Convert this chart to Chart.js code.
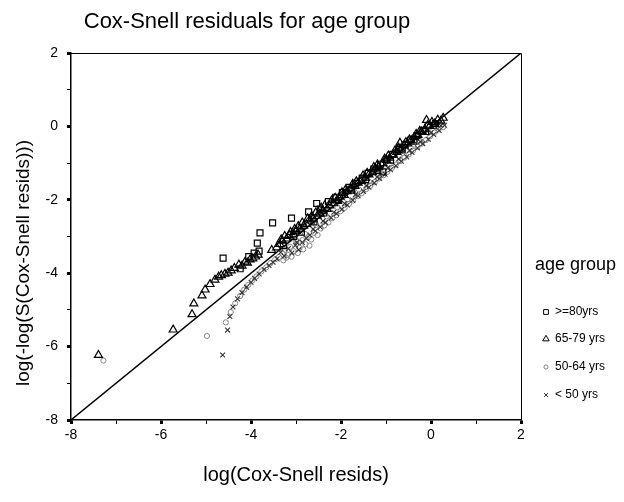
<!DOCTYPE html>
<html>
<head>
<meta charset="utf-8">
<title>Cox-Snell residuals for age group</title>
<script src="https://cdn.jsdelivr.net/npm/chart.js@4/dist/chart.umd.min.js"></script>
<style>
  html, body { margin: 0; padding: 0; background: #ffffff; }
  canvas { display: block; }
</style>
</head>
<body>
<canvas id="chart" width="624" height="502"></canvas>
<script>
// ---- text ----
const chartTitle = 'Cox-Snell residuals for age group';
const xTitle = 'log(Cox-Snell resids)';
const yTitle = 'log(-log(S(Cox-Snell resids)))';
const legendTitle = 'age group';
const groupLabels = ['>=80yrs', '65-79 yrs', '50-64 yrs', '< 50 yrs'];

// ---- axes ----
const axisMin = -8;
const axisMax = 2;
const tickLabels = ['-8', '-6', '-4', '-2', '0', '2'];

// ---- reference line (45 degree) ----
const refX = [-8, 2];
const refY = [-8, 2];

// ---- age >= 80 ----
const sqX = [-4.62, -4.24, -4.05, -3.93, -3.82, -3.86, -3.80, -3.52, -3.28, -3.10, -3.05, -2.88,
             -2.72, -2.60, -2.54, -2.46, -2.38, -2.28, -2.12, -2.05, -1.97, -1.82, -1.76, -1.68,
             -1.53, -1.45, -1.40, -1.27, -1.18, -1.07, -1.12, -0.98, -0.90, -0.85, -0.71, -0.64,
             -0.58, -0.45, -0.38, -0.31, -0.18, -0.12, -0.06, 0.05, 0.10];
const sqY = [-3.59, -3.88, -3.55, -3.45, -3.40, -3.18, -2.90, -2.63, -3.25, -2.50, -3.00, -2.88,
             -2.33, -2.60, -2.10, -2.25, -2.36, -2.05, -1.93, -2.02, -1.80, -1.66, -1.74, -1.55,
             -1.41, -1.45, -1.28, -1.16, -1.20, -1.24, -1.03, -0.90, -0.92, -0.76, -0.63, -0.64,
             -0.50, -0.37, -0.40, -0.25, -0.11, -0.14, 0.02, 0.03, 0.08];

// ---- age 65-79 ----
const triX = [-7.39, -5.73, -5.31, -5.27, -5.09, -5.02, -4.91, -4.80, -4.72, -4.66, -4.58, -4.51,
              -4.44, -4.37, -4.27, -4.20, -4.13, -4.08, -4.02, -3.96, -3.90, -3.84, -3.54, -3.43,
              -3.36, -3.33, -3.30, -3.25, -3.21, -3.15, -3.12, -3.06, -3.03, -2.99, -2.95, -2.91,
              -2.86, -2.83, -2.77, -2.74, -2.68, -2.65, -2.62, -2.56, -2.53, -2.47, -2.44, -2.40,
              -2.36, -2.31, -2.25, -2.21, -2.16, -2.13, -2.09, -2.02, -1.98, -1.93, -1.90, -1.86,
              -1.78, -1.74, -1.69, -1.66, -1.62, -1.55, -1.51, -1.46, -1.42, -1.38, -1.30, -1.27,
              -1.23, -1.19, -1.16, -1.07, -1.03, -0.99, -0.95, -0.92, -0.84, -0.80, -0.76, -0.72,
              -0.69, -0.67, -0.60, -0.56, -0.52, -0.48, -0.44, -0.37, -0.33, -0.29, -0.25, -0.21,
              -0.14, -0.10, -0.07, -0.03, 0.02, 0.08, 0.15, 0.22, 0.27];
const triY = [-6.23, -5.54, -5.12, -4.83, -4.61, -4.45, -4.30, -4.18, -4.10, -4.06, -4.02, -3.99,
              -3.93, -3.86, -3.77, -3.80, -3.69, -3.72, -3.63, -3.60, -3.55, -3.50, -3.37, -3.30,
              -3.21, -3.08, -3.12, -2.99, -3.06, -2.97, -2.88, -2.93, -2.80, -2.84, -2.72, -2.79,
              -2.62, -2.71, -2.66, -2.51, -2.57, -2.44, -2.52, -2.35, -2.44, -2.38, -2.22, -2.30,
              -2.15, -2.25, -2.16, -2.02, -2.10, -1.95, -2.01, -1.92, -1.80, -1.87, -1.73, -1.77,
              -1.72, -1.57, -1.63, -1.50, -1.54, -1.49, -1.34, -1.40, -1.27, -1.31, -1.25, -1.11,
              -1.15, -1.04, -1.10, -1.01, -0.88, -0.92, -0.80, -0.86, -0.77, -0.66, -0.70, -0.58,
              -0.45, -0.61, -0.52, -0.43, -0.47, -0.36, -0.38, -0.30, -0.21, -0.24, -0.13, -0.15,
              -0.08, 0.17, 0.04, 0.01, 0.12, 0.07, 0.18, 0.15, 0.23];

// ---- age 50-64 ----
const cirX = [-7.28, -4.98, -4.56, -4.45, -4.35, -4.24, -4.15, -4.06, -3.97, -3.88, -3.77, -3.66,
              -3.57, -3.46, -3.38, -3.30, -3.28, -3.24, -3.22, -3.18, -3.13, -3.10, -3.05, -3.00,
              -2.99, -2.96, -2.92, -2.86, -2.84, -2.80, -2.79, -2.73, -2.70, -2.66, -2.60, -2.55,
              -2.52, -2.45, -2.37, -2.32, -2.28, -2.19, -2.10, -2.08, -2.01, -1.92, -1.86, -1.82,
              -1.73, -1.63, -1.60, -1.54, -1.44, -1.38, -1.35, -1.25, -1.16, -1.12, -1.06, -0.97,
              -0.92, -0.87, -0.78, -0.70, -0.68, -0.59, -0.49, -0.45, -0.40, -0.30, -0.25, -0.21,
              -0.11, -0.05, -0.02, 0.08, 0.12, 0.17, 0.27];
const cirY = [-6.38, -5.71, -5.34, -5.06, -4.82, -4.62, -4.45, -4.32, -4.20, -4.09, -3.95, -3.84,
              -3.73, -3.62, -3.56, -3.47, -3.65, -3.36, -3.58, -3.50, -3.28, -3.55, -3.40, -3.10,
              -3.20, -3.45, -3.31, -3.10, -3.35, -2.93, -3.21, -3.02, -3.25, -3.08, -2.90, -2.68,
              -2.96, -2.78, -2.70, -2.45, -2.62, -2.50, -2.42, -2.20, -2.31, -2.22, -1.99, -2.11,
              -2.02, -1.90, -1.72, -1.82, -1.71, -1.50, -1.62, -1.52, -1.42, -1.24, -1.33, -1.24,
              -1.04, -1.13, -1.04, -0.82, -0.94, -0.85, -0.76, -0.57, -0.66, -0.56, -0.38, -0.47,
              -0.37, -0.17, -0.27, -0.17, -0.03, -0.08, -0.02];

// ---- age < 50 ----
const crsX = [-4.63, -4.52, -4.47, -4.40, -4.30, -4.20, -4.10, -4.00, -3.92, -3.82, -3.71, -3.60,
              -3.51, -3.42, -3.34, -3.26, -3.17, -3.09, -3.01, -2.98, -2.94, -2.86, -2.77, -2.69,
              -2.62, -2.57, -2.46, -2.40, -2.34, -2.22, -2.16, -2.10, -1.98, -1.92, -1.86, -1.74,
              -1.68, -1.62, -1.50, -1.44, -1.38, -1.26, -1.20, -1.14, -1.02, -0.96, -0.90, -0.78,
              -0.72, -0.66, -0.54, -0.48, -0.42, -0.30, -0.24, -0.18, -0.06, 0.00, 0.06, 0.18,
              0.22, 0.30];
const crsY = [-6.23, -5.55, -5.18, -4.92, -4.70, -4.53, -4.38, -4.25, -4.14, -4.02, -3.90, -3.79,
              -3.70, -3.61, -3.43, -3.53, -3.33, -3.45, -3.24, -3.16, -3.36, -3.16, -3.05, -2.96,
              -2.80, -2.85, -2.74, -2.58, -2.62, -2.49, -2.34, -2.38, -2.26, -2.10, -2.14, -2.01,
              -1.86, -1.89, -1.77, -1.62, -1.66, -1.54, -1.38, -1.42, -1.30, -1.13, -1.18, -1.07,
              -0.89, -0.95, -0.83, -0.66, -0.71, -0.59, -0.42, -0.47, -0.35, -0.17, -0.22, -0.11,
              0.02, 0.03];

const FONT = '"Liberation Sans", Arial, Helvetica, sans-serif';
const toPoints = (xs, ys) => xs.map((x, i) => ({ x: x, y: ys[i] }));

// marker styles per group, shared by the plot and the key
const markerStyles = [
  { pointStyle: 'rect',     radius: 4.2, color: '#000000', width: 1.2 },
  { pointStyle: 'triangle', radius: 4.6, color: '#000000', width: 1.2 },
  { pointStyle: 'circle',   radius: 2.6, color: '#858585', width: 1 },
  { pointStyle: 'crossRot', radius: 3.4, color: '#333333', width: 1.1 }
];

function groupDataset(idx, xs, ys) {
  const s = markerStyles[idx];
  return {
    label: groupLabels[idx],
    data: toPoints(xs, ys),
    showLine: false,
    pointStyle: s.pointStyle,
    pointRadius: s.radius,
    pointBorderColor: s.color,
    pointBackgroundColor: 'rgba(0,0,0,0)',
    pointBorderWidth: s.width
  };
}

// frame around the plotting region
const framePlugin = {
  id: 'frame',
  afterDraw(chart) {
    const { ctx, chartArea: a } = chart;
    ctx.save();
    ctx.strokeStyle = '#000';
    ctx.lineWidth = 1;
    ctx.beginPath();
    ctx.moveTo(a.left, a.top + 0.5);
    ctx.lineTo(a.right + 0.5, a.top + 0.5);
    ctx.lineTo(a.right + 0.5, a.bottom);
    ctx.stroke();
    ctx.restore();
  }
};

// title, rotated y-axis title and the group key
const textPlugin = {
  id: 'texts',
  afterDraw(chart) {
    const ctx = chart.ctx;
    ctx.save();
    ctx.fillStyle = '#000';

    ctx.font = '22px ' + FONT;
    ctx.textAlign = 'center';
    ctx.textBaseline = 'alphabetic';
    ctx.fillText(chartTitle, 247, 28);

    ctx.save();
    ctx.translate(24, 263);
    ctx.rotate(-Math.PI / 2);
    ctx.font = '19px ' + FONT;
    ctx.textAlign = 'center';
    ctx.textBaseline = 'middle';
    ctx.fillText(yTitle, 0, 0);
    ctx.restore();

    ctx.font = '18px ' + FONT;
    ctx.textAlign = 'left';
    ctx.textBaseline = 'alphabetic';
    ctx.fillText(legendTitle, 535, 270);

    const rows = [312, 339, 367, 395];
    ctx.font = '12px ' + FONT;
    ctx.textBaseline = 'middle';
    groupLabels.forEach((lab, i) => {
      const s = markerStyles[i];
      ctx.strokeStyle = s.color;
      ctx.fillStyle = 'rgba(0,0,0,0)';
      ctx.lineWidth = 1;
      Chart.helpers.drawPoint(ctx, {
        pointStyle: s.pointStyle, radius: s.radius * 0.8, rotation: 0, borderWidth: 1
      }, 546, rows[i]);
      ctx.fillStyle = '#000';
      ctx.fillText(lab, 555, rows[i]);
    });
    ctx.restore();
  }
};

const tickOpts = {
  stepSize: 1,
  autoSkip: false,
  maxRotation: 0,
  color: '#000',
  font: { family: FONT, size: 14 },
  callback: (v) => {
    const lab = String(v);
    return tickLabels.includes(lab) ? lab : '';
  }
};
const gridOpts = {
  drawOnChartArea: false,
  drawTicks: true,
  tickLength: 4,
  tickColor: '#000',
  tickWidth: (c) => (c.tick && Math.abs(c.tick.value) % 2 === 0 ? 3 : 1)
};

new Chart(document.getElementById('chart'), {
  type: 'scatter',
  data: {
    datasets: [
      groupDataset(0, sqX, sqY),
      groupDataset(1, triX, triY),
      groupDataset(3, crsX, crsY),
      groupDataset(2, cirX, cirY),
      {
        label: 'reference',
        data: toPoints(refX, refY),
        showLine: true,
        borderColor: '#000',
        borderWidth: 1.4,
        pointRadius: 0,
        fill: false
      }
    ]
  },
  options: {
    responsive: false,
    animation: false,
    devicePixelRatio: 1,
    layout: { padding: { top: 53, right: 103, left: 0, bottom: 0 } },
    plugins: { legend: { display: false }, tooltip: { enabled: false }, title: { display: false } },
    scales: {
      x: {
        type: 'linear', min: axisMin, max: axisMax,
        ticks: Object.assign({}, tickOpts, { padding: 3 }),
        grid: gridOpts,
        border: { color: '#000', width: 1.5 },
        title: {
          display: true, text: xTitle, color: '#000',
          font: { family: FONT, size: 20 }, padding: { top: 0, bottom: 15 }
        },
        afterFit: (s) => { s.height = 82; }
      },
      y: {
        type: 'linear', min: axisMin, max: axisMax,
        ticks: Object.assign({}, tickOpts, { padding: 9 }),
        grid: gridOpts,
        border: { color: '#000', width: 1.5 },
        afterFit: (s) => { s.width = 71; }
      }
    }
  },
  plugins: [framePlugin, textPlugin]
});
</script>
</body>
</html>
